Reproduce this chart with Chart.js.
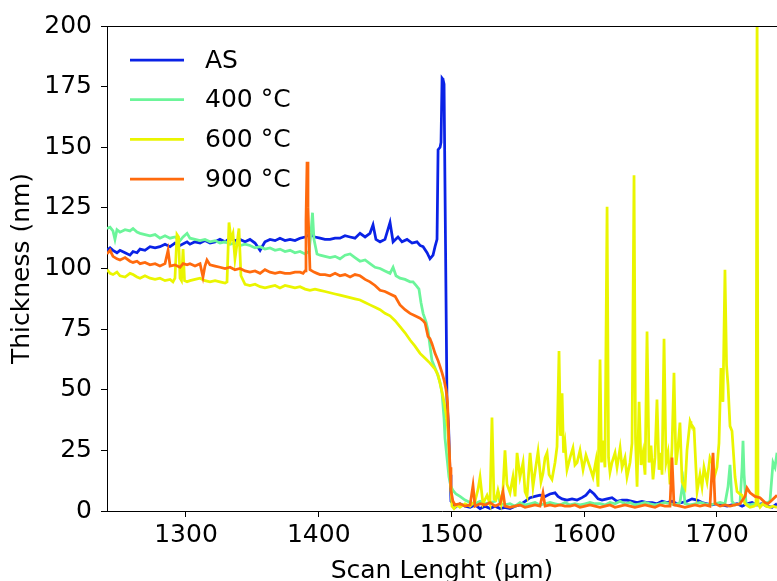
<!DOCTYPE html>
<html>
<head>
<meta charset="utf-8">
<script src="https://cdn.jsdelivr.net/npm/chart.js@4.4.1/dist/chart.umd.min.js"></script>
<style>
  html, body { margin: 0; padding: 0; background: #fff; overflow: hidden; }
  canvas { display: block; }
</style>
</head>
<body>
<canvas id="profile" width="777" height="581"></canvas>
<script>
// profilometer scans: thickness (nm) vs scan length (µm)
const seriesLabels = ['AS', '400 °C', '600 °C', '900 °C']
const seriesColors = ['#0a22e6', '#6cf59a', '#eaf500', '#ff6a0d']
const xTicks = [1300, 1400, 1500, 1600, 1700]
const yTicks = [0, 25, 50, 75, 100, 125, 150, 175, 200]

const asX = [1240.5, 1242.8, 1245.0, 1248.0, 1250.3, 1254.1, 1257.8, 1260.1, 1263.1, 1265.4, 1269.1, 1272.9, 1276.7, 1280.4, 1284.2, 1288.0, 1291.7, 1295.5, 1300.8, 1303.0, 1306.8, 1310.6, 1314.3, 1318.1, 1321.9, 1325.6, 1329.4, 1333.2, 1336.9, 1340.7, 1344.5, 1348.2, 1352.0, 1355.8, 1359.5, 1363.3, 1367.1, 1370.8, 1374.6, 1378.4, 1382.1, 1385.9, 1389.7, 1393.4, 1397.2, 1401.0, 1404.7, 1408.5, 1412.3, 1416.0, 1419.8, 1423.6, 1427.3, 1431.1, 1434.9, 1438.6, 1440.9, 1443.1, 1446.2, 1449.9, 1453.7, 1456.0, 1459.7, 1462.7, 1466.5, 1470.3, 1474.0, 1476.3, 1478.6, 1481.6, 1483.8, 1486.1, 1487.6, 1489.1, 1489.9, 1491.4, 1492.1, 1492.9, 1493.6, 1494.4, 1495.5, 1496.6, 1497.8, 1498.9, 1499.6, 1501.1, 1502.7, 1506.4, 1510.2, 1514.0, 1517.7, 1521.5, 1525.3, 1529.0, 1532.8, 1536.6, 1540.3, 1544.1, 1547.9, 1551.6, 1555.4, 1559.2, 1562.9, 1566.7, 1570.5, 1574.2, 1578.0, 1580.2, 1583.3, 1587.0, 1590.8, 1594.6, 1598.3, 1601.3, 1604.3, 1607.4, 1610.4, 1613.4, 1617.2, 1620.9, 1624.7, 1628.5, 1632.2, 1636.0, 1639.8, 1643.5, 1647.3, 1651.1, 1654.8, 1658.6, 1662.4, 1666.1, 1669.9, 1673.7, 1677.4, 1681.2, 1685.0, 1688.7, 1692.5, 1696.3, 1700.0, 1703.8, 1707.6, 1711.3, 1715.1, 1718.9, 1722.6, 1726.4, 1730.2, 1733.9, 1737.7, 1741.5, 1745.2]
const asY = [107.5, 108.5, 107.5, 106.5, 107.5, 106.5, 105.5, 107, 106.5, 108, 107.5, 109, 108.5, 109, 110, 109, 110.5, 109.5, 111, 110, 111, 110.5, 111.5, 110.5, 111, 112, 111, 112.5, 111.5, 112, 111, 112, 110.5, 107.5, 111, 112, 111.5, 112.5, 111.5, 112, 111.5, 112.5, 113, 114, 113, 112.5, 112, 112, 112.5, 112.5, 113.5, 113, 112.5, 114.5, 113, 114.5, 118, 112, 111, 112, 119, 111, 113, 111, 112, 110.5, 111, 109.5, 109, 106.5, 104, 105.5, 109, 112, 149, 150, 152, 178.5, 178, 176, 110, 45, 35, 15, 4, 3, 1.5, 3, 2, 1.5, 2.5, 1, 2, 1, 2, 1, 1.5, 1, 2, 2.5, 4, 5.5, 6, 6.5, 6, 7, 7.5, 6, 5, 4.5, 5, 4.5, 5.5, 6.5, 8.5, 7, 5, 4.5, 5, 5.5, 4, 4.5, 4.5, 4, 3.5, 4, 3.5, 3.5, 3, 4, 3.5, 4, 3, 3.5, 4, 5, 4.5, 3.5, 3, 2.5, 3, 2.5, 2, 2.5, 3, 2, 3, 3.5, 2.5, 3, 2, 1.5, 3]

const c400X = [1240.5, 1242.8, 1245.0, 1246.5, 1248.0, 1250.3, 1254.1, 1257.8, 1260.1, 1263.1, 1265.4, 1269.1, 1272.9, 1276.7, 1280.4, 1284.2, 1288.0, 1291.7, 1295.5, 1297.8, 1300.8, 1303.0, 1306.8, 1310.6, 1314.3, 1318.1, 1321.9, 1325.6, 1329.4, 1333.2, 1336.9, 1340.7, 1344.5, 1348.2, 1352.0, 1355.8, 1359.5, 1363.3, 1367.1, 1370.8, 1374.6, 1378.4, 1382.1, 1385.9, 1389.7, 1392.7, 1394.2, 1395.3, 1396.4, 1398.7, 1401.0, 1404.7, 1408.5, 1412.3, 1416.0, 1419.8, 1423.6, 1427.3, 1431.1, 1434.9, 1438.6, 1442.4, 1446.2, 1449.9, 1453.7, 1456.0, 1458.2, 1461.2, 1465.0, 1468.8, 1471.0, 1473.3, 1475.5, 1477.0, 1478.6, 1480.8, 1482.3, 1483.8, 1485.3, 1487.6, 1489.1, 1491.4, 1492.9, 1494.4, 1495.1, 1496.6, 1498.1, 1499.6, 1501.1, 1503.4, 1506.4, 1510.2, 1514.0, 1517.7, 1521.5, 1525.3, 1529.0, 1532.8, 1535.0, 1536.6, 1540.3, 1544.1, 1547.9, 1551.6, 1555.4, 1559.2, 1562.9, 1566.7, 1570.5, 1574.2, 1578.0, 1581.8, 1585.5, 1589.3, 1593.0, 1596.8, 1600.6, 1604.3, 1608.1, 1611.9, 1615.6, 1619.4, 1623.2, 1627.0, 1630.7, 1634.5, 1638.2, 1642.0, 1645.8, 1649.5, 1653.3, 1657.1, 1660.8, 1664.6, 1668.4, 1672.1, 1674.4, 1675.9, 1679.7, 1683.4, 1687.2, 1691.0, 1694.7, 1698.5, 1702.3, 1706.0, 1708.3, 1709.8, 1711.3, 1713.6, 1717.3, 1718.9, 1719.6, 1720.4, 1721.9, 1724.9, 1728.6, 1732.4, 1736.2, 1739.9, 1742.2, 1743.7, 1745.2]
const c400Y = [116.5, 117, 115.5, 112, 116, 115, 116, 115.5, 116.5, 115, 114.5, 114, 113.5, 114, 112.5, 113.5, 112.5, 113, 111.5, 113, 114.5, 112.5, 112, 111.5, 112, 111, 111.5, 110.5, 111, 110, 110.5, 109.5, 110, 109.5, 108.5, 109, 108, 108.5, 107.5, 108, 107, 107.5, 106.5, 107, 106, 107, 115, 123, 112, 106, 105.5, 105, 104.5, 105, 104, 105.5, 106, 104.5, 103, 103.5, 102, 100.5, 100, 99, 98, 100.5, 97, 96, 95.5, 94.5, 94.5, 93, 91.5, 86, 81.5, 78, 74.5, 68, 62, 59, 57, 53, 48.5, 38, 30, 22, 14, 10, 8.5, 7, 6, 4.5, 3.5, 3, 4, 3, 3.5, 4, 7.5, 3, 2.5, 3, 2, 3.5, 2.5, 3, 3.5, 2.5, 3, 3.5, 3, 2.5, 3.5, 2.5, 3, 2.5, 3, 3.5, 3, 3, 2.5, 3.5, 3, 4, 3, 3.5, 2.5, 3, 3.5, 3, 2.5, 3, 3.5, 3, 2.5, 3.5, 12, 3, 2.5, 3, 3.5, 3, 2.5, 3, 3.5, 3, 10, 19, 4, 2.5, 3, 18, 29, 15, 3, 2.5, 3, 2.5, 3, 4, 20, 18, 24]

const c600X = [1240.5, 1242.8, 1245.0, 1248.0, 1250.3, 1254.1, 1257.8, 1260.1, 1263.1, 1265.4, 1269.1, 1272.9, 1276.7, 1280.4, 1284.2, 1288.0, 1290.2, 1291.7, 1293.2, 1294.4, 1295.5, 1296.6, 1297.8, 1298.9, 1300.8, 1303.0, 1306.8, 1310.6, 1314.3, 1318.1, 1321.9, 1325.6, 1329.4, 1330.9, 1332.4, 1333.9, 1335.4, 1336.9, 1338.4, 1339.9, 1341.4, 1344.5, 1348.2, 1352.0, 1355.8, 1359.5, 1363.3, 1367.1, 1370.8, 1374.6, 1378.4, 1382.1, 1385.9, 1389.7, 1393.4, 1397.2, 1401.0, 1404.7, 1408.5, 1412.3, 1416.0, 1419.8, 1423.6, 1427.3, 1431.1, 1434.9, 1438.6, 1442.4, 1446.2, 1449.9, 1453.7, 1457.5, 1461.2, 1465.0, 1468.8, 1472.5, 1476.3, 1480.1, 1483.8, 1487.6, 1489.9, 1492.1, 1494.4, 1495.9, 1497.4, 1498.9, 1500.4, 1501.9, 1504.2, 1506.4, 1510.2, 1514.0, 1517.7, 1520.0, 1521.5, 1523.7, 1526.8, 1529.0, 1530.5, 1532.0, 1533.5, 1535.0, 1537.3, 1538.8, 1540.3, 1541.8, 1544.1, 1546.3, 1547.9, 1549.4, 1551.6, 1553.9, 1555.4, 1556.9, 1559.2, 1561.4, 1563.7, 1565.2, 1567.4, 1568.9, 1570.5, 1572.0, 1573.5, 1575.7, 1578.0, 1579.5, 1581.0, 1582.1, 1583.3, 1584.4, 1585.5, 1587.0, 1589.3, 1591.5, 1593.0, 1594.6, 1596.8, 1599.1, 1601.3, 1604.3, 1606.6, 1608.9, 1610.4, 1611.9, 1613.0, 1614.1, 1615.6, 1617.2, 1618.3, 1619.4, 1620.9, 1623.2, 1624.7, 1627.0, 1628.5, 1630.7, 1632.2, 1634.5, 1636.0, 1637.5, 1638.6, 1639.8, 1641.3, 1642.8, 1644.3, 1645.8, 1647.3, 1648.8, 1650.3, 1651.8, 1653.3, 1654.8, 1656.3, 1657.8, 1658.6, 1660.1, 1661.6, 1663.1, 1664.6, 1666.1, 1667.6, 1669.1, 1670.6, 1672.1, 1673.7, 1675.9, 1677.4, 1679.7, 1680.4, 1682.7, 1685.0, 1687.2, 1688.7, 1690.2, 1692.5, 1694.7, 1696.3, 1698.5, 1700.0, 1701.5, 1703.0, 1704.5, 1706.0, 1707.2, 1708.3, 1709.8, 1711.3, 1713.6, 1715.1, 1717.3, 1718.9, 1721.1, 1723.4, 1724.9, 1727.9, 1729.4, 1730.2, 1730.9, 1732.4, 1734.7, 1736.9, 1739.9, 1742.2, 1745.2]
const c600Y = [99.5, 98, 97.5, 98.5, 97, 96.5, 98, 97.5, 96.5, 96, 97, 96, 95.5, 96, 95, 95.5, 94.5, 96, 114, 113, 96, 95, 108, 95, 94.5, 95, 95.5, 96, 95, 94.5, 95, 94.5, 94, 94.5, 119, 112, 114.5, 104, 110, 116.5, 97, 93.5, 93, 93.5, 92.5, 92, 92.5, 93, 92, 93, 92.5, 92, 92.5, 91.5, 91, 91.5, 91, 90.5, 90, 89.5, 89, 88.5, 88, 87.5, 87, 86, 85, 84, 83, 81.5, 80.5, 78.5, 76, 73.5, 70.5, 68, 65, 63, 61, 58.5, 56, 51, 45, 40, 33, 15, 2, 1, 2.5, 1.5, 3, 2, 4, 9, 14, 3, 6.5, 3, 38.5, 5, 4.5, 8.5, 3, 9, 25, 11, 7.5, 14, 6, 24, 14, 20, 8, 6, 24, 10, 19, 24.5, 12, 15.5, 22, 24, 15, 13, 20, 26.5, 66, 31, 48.5, 24, 28, 17, 22, 26, 19, 20, 25, 17, 23, 18, 14, 21, 10, 62.5, 20, 29, 18, 125.5, 22, 16, 20, 24, 18, 26, 18, 22, 14, 20, 28, 138.5, 30, 10, 45, 19, 24, 15, 74, 20, 27, 13, 22, 46, 17, 24, 15, 71, 20, 24, 11, 26, 57, 19, 26, 36.5, 12, 9.5, 25, 37, 36, 34, 8, 15, 10, 18, 12, 22, 20, 15, 18, 28, 59, 45, 99.5, 60, 52, 35, 33, 14, 8, 7, 6.5, 3, 2, 1.5, 2, 2.5, 210, 3, 1.5, 3, 2, 1.5, 2, 1.5]

const c900X = [1240.5, 1242.8, 1245.0, 1248.0, 1250.3, 1254.1, 1257.8, 1260.1, 1263.1, 1265.4, 1269.1, 1272.9, 1276.7, 1280.4, 1284.2, 1286.5, 1288.0, 1291.7, 1295.5, 1297.8, 1300.8, 1303.0, 1306.8, 1310.6, 1312.8, 1314.3, 1315.8, 1318.1, 1321.9, 1325.6, 1329.4, 1333.2, 1336.9, 1340.7, 1344.5, 1348.2, 1352.0, 1355.8, 1359.5, 1363.3, 1367.1, 1370.8, 1374.6, 1378.4, 1382.1, 1385.9, 1388.2, 1389.7, 1390.4, 1391.2, 1391.9, 1393.4, 1396.4, 1398.7, 1401.0, 1404.7, 1408.5, 1412.3, 1416.0, 1419.8, 1423.6, 1427.3, 1431.1, 1434.9, 1438.6, 1442.4, 1446.2, 1449.9, 1453.7, 1457.5, 1461.2, 1465.0, 1468.8, 1472.5, 1476.3, 1478.6, 1480.1, 1482.3, 1483.8, 1485.3, 1487.6, 1489.9, 1491.4, 1492.9, 1494.4, 1495.9, 1497.0, 1498.1, 1498.9, 1499.6, 1501.1, 1502.7, 1506.4, 1510.2, 1514.0, 1516.2, 1517.7, 1521.5, 1525.3, 1529.0, 1532.8, 1536.6, 1538.8, 1540.3, 1544.1, 1547.9, 1551.6, 1555.4, 1559.2, 1562.9, 1566.7, 1568.9, 1570.5, 1574.2, 1578.0, 1581.8, 1585.5, 1589.3, 1593.0, 1596.8, 1600.6, 1604.3, 1608.1, 1611.9, 1615.6, 1619.4, 1623.2, 1627.0, 1630.7, 1634.5, 1638.2, 1642.0, 1645.8, 1649.5, 1653.3, 1657.1, 1660.8, 1664.6, 1666.1, 1667.6, 1672.1, 1675.9, 1679.7, 1683.4, 1687.2, 1691.0, 1694.7, 1697.0, 1698.5, 1702.3, 1706.0, 1709.8, 1713.6, 1717.3, 1721.1, 1722.6, 1724.9, 1728.6, 1732.4, 1736.2, 1738.4, 1741.5, 1745.2]
const c900Y = [106, 107.5, 105, 104, 103.5, 104.5, 103, 102.5, 103, 102, 102.5, 101.5, 102, 101, 102, 107.5, 101, 101.5, 100.5, 102, 101.5, 102, 101, 102, 96.5, 101, 103.5, 101.5, 101, 100.5, 100, 100.5, 99.5, 100, 99, 98.5, 99, 98, 99.5, 98.5, 98, 98.5, 98, 98, 98.5, 98.5, 98, 99, 120, 144, 125, 99.5, 98.5, 98, 97.5, 97.5, 97, 98, 97, 97.5, 96.5, 97.5, 97, 95.5, 94.5, 93, 91, 90.5, 89.5, 88.5, 85, 83, 81.5, 80.5, 79.5, 78.5, 77.5, 72, 71, 69, 65, 62, 59.5, 57, 54, 50, 45, 28, 18, 8.5, 4, 2.5, 3, 2, 2.5, 10.5, 2, 3, 2.5, 3.5, 2, 3, 8, 2, 1.5, 2, 2.5, 1.5, 2, 2.5, 2, 7.5, 2, 2.5, 2, 2.5, 2, 2, 2.5, 1.5, 2, 2.5, 2, 1.5, 2, 2.5, 1.5, 2, 2.5, 2, 1.5, 2, 2.5, 2, 1.5, 2.5, 2, 2, 22, 2.5, 2, 1.5, 2, 2.5, 2, 2.5, 2, 24, 3, 2, 2.5, 2, 2.5, 3, 6, 9.5, 7.5, 6, 5.5, 3.5, 3, 4.5, 6.5]

const seriesX = [asX, c400X, c600X, c900X]
const seriesY = [asY, c400Y, c600Y, c900Y]

const font = 'DejaVu Sans'
const fontSize = 25

// matplotlib-style frame: top spine plus a legend drawn inside the axes
const framePlugin = {
    id: 'frame',
    afterDatasetsDraw(chart) {
        const c = chart.ctx
        const area = chart.chartArea
        c.save()
        c.strokeStyle = '#000'
        c.lineWidth = 1
        c.beginPath()
        c.moveTo(area.left, area.top + 0.5)
        c.lineTo(area.right, area.top + 0.5)
        c.stroke()
        c.restore()
    },
    afterDraw(chart) {
        const c = chart.ctx
        const area = chart.chartArea
        c.save()
        c.font = fontSize + 'px "' + font + '"'
        c.textBaseline = 'middle'
        chart.data.datasets.forEach(function(ds, i) {
            const y = area.top + 34 + i * 39.7
            c.strokeStyle = ds.borderColor
            c.lineWidth = 2.75
            c.beginPath()
            c.moveTo(area.left + 23, y)
            c.lineTo(area.left + 77, y)
            c.stroke()
            c.fillStyle = '#000'
            c.fillText(ds.label, area.left + 98, y + 1)
        })
        c.restore()
    }
}

const datasets = seriesLabels.map(function(label, i) {
    return {
        label: label,
        data: seriesX[i].map(function(x, j) { return {x: x, y: seriesY[i][j]} }),
        borderColor: seriesColors[i],
        backgroundColor: seriesColors[i],
        borderWidth: 2.75,
        pointRadius: 0,
        tension: 0,
        order: seriesLabels.length - i
    }
})

const plainTick = function(value) { return String(value) }

new Chart(document.getElementById('profile'), {
    type: 'line',
    data: { datasets: datasets },
    plugins: [framePlugin],
    options: {
        responsive: false,
        animation: false,
        devicePixelRatio: 1,
        layout: { padding: { top: 26, right: 0, left: 0, bottom: 0 } },
        plugins: {
            legend: { display: false },
            tooltip: { enabled: false }
        },
        scales: {
            x: {
                type: 'linear',
                min: 1240.5,
                max: 1745.2,
                afterFit(scale) { scale.height = 70 },
                afterBuildTicks(scale) { scale.ticks = xTicks.map(function(v) { return {value: v} }) },
                grid: { display: true, drawOnChartArea: false, tickLength: 6, color: '#000' },
                border: { display: true, color: '#000', width: 1 },
                ticks: {
                    color: '#000',
                    padding: 3,
                    maxRotation: 0,
                    callback: plainTick,
                    font: { family: font, size: fontSize }
                },
                title: {
                    display: true,
                    text: 'Scan Lenght (μm)',
                    color: '#000',
                    padding: { top: 0, bottom: -5 },
                    font: { family: font, size: fontSize }
                }
            },
            y: {
                min: 0,
                max: 200,
                afterFit(scale) { scale.width = 107 },
                afterBuildTicks(scale) { scale.ticks = yTicks.map(function(v) { return {value: v} }) },
                grid: { display: true, drawOnChartArea: false, tickLength: 6, color: '#000' },
                border: { display: true, color: '#000', width: 1 },
                ticks: {
                    color: '#000',
                    padding: 9,
                    callback: plainTick,
                    font: { family: font, size: fontSize }
                },
                title: {
                    display: true,
                    text: 'Thickness (nm)',
                    color: '#000',
                    padding: { top: 7, bottom: 0 },
                    font: { family: font, size: fontSize }
                }
            }
        }
    }
})
</script>
</body>
</html>
